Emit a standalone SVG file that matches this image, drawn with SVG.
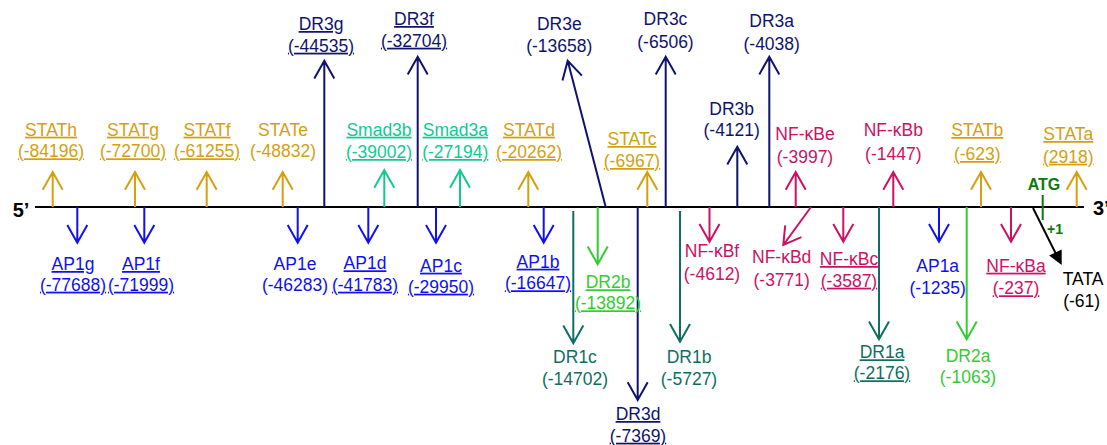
<svg xmlns="http://www.w3.org/2000/svg" width="1107" height="445" viewBox="0 0 1107 445">
<style>
text{font-family:"Liberation Sans",Arial,sans-serif;font-size:17.5px;text-anchor:middle}
.u{text-decoration:underline}
.gold{fill:#d4a010}.smad{fill:#10c995}.navy{fill:#10136e}.blue{fill:#1010f0}.nf{fill:#cc1166}.teal{fill:#0f6e62}.lg{fill:#33cc33}.blk{fill:#000}
.a{fill:none;stroke-width:2}
.sg{stroke:#d4a010}.ss{stroke:#10c995}.sn{stroke:#10136e}.sb{stroke:#1010f0}.snf{stroke:#cc1166}.st{stroke:#0f6e62}.slg{stroke:#33cc33}
.bold{font-weight:bold}
</style>
<rect width="1107" height="445" fill="#fff"/>
<g id="connectors">
<line x1="35" y1="207" x2="1084" y2="207" stroke="#000" stroke-width="2"/>
<!-- up STAT -->
<path class="a sg" d="M52.7 207V172M42.7 189.7L52.7 172L62.7 189.7"/>
<path class="a sg" d="M135 207V172M125 189.7L135 172L145 189.7"/>
<path class="a sg" d="M206.7 207V172M196.7 189.7L206.7 172L216.7 189.7"/>
<path class="a sg" d="M282.7 207V172M272.7 189.7L282.7 172L292.7 189.7"/>
<path class="a ss" d="M384.3 207V170M374.3 187.7L384.3 170L394.3 187.7"/>
<path class="a ss" d="M460 207V170M450 187.7L460 170L470 187.7"/>
<path class="a sg" d="M528.3 207V172M518.3 189.7L528.3 172L538.3 189.7"/>
<path class="a sg" d="M647.3 207V172M637.3 189.7L647.3 172L657.3 189.7"/>
<path class="a sg" d="M981 207V172M971 189.7L981 172L991 189.7"/>
<path class="a sg" d="M1076.7 207V172M1066.7 189.7L1076.7 172L1086.7 189.7"/>
<!-- up DR3 -->
<path class="a sn" d="M324.3 207V60.7M314.3 78.4L324.3 60.7L334.3 78.4"/>
<path class="a sn" d="M417.7 207V56.7M407.7 74.4L417.7 56.7L427.7 74.4"/>
<path class="a sn" d="M605.7 207L567.7 60.7M562.5 80.6L567.7 60.7L581.9 75.6"/>
<path class="a sn" d="M665.7 207V56.7M655.7 74.4L665.7 56.7L675.7 74.4"/>
<path class="a sn" d="M737.3 207V146.7M727.3 164.4L737.3 146.7L747.3 164.4"/>
<path class="a sn" d="M769.3 207V56.7M759.3 74.4L769.3 56.7L779.3 74.4"/>
<!-- up NF-kB -->
<path class="a snf" d="M795.7 207V172M785.7 189.7L795.7 172L805.7 189.7"/>
<path class="a snf" d="M893.3 207V172M883.3 189.7L893.3 172L903.3 189.7"/>
<!-- down AP1 -->
<path class="a sb" d="M77.3 207V242.7M67.3 225L77.3 242.7L87.3 225"/>
<path class="a sb" d="M144.3 207V242.7M134.3 225L144.3 242.7L154.3 225"/>
<path class="a sb" d="M297.7 207V242.7M287.7 225L297.7 242.7L307.7 225"/>
<path class="a sb" d="M368.3 207V242.7M358.3 225L368.3 242.7L378.3 225"/>
<path class="a sb" d="M436 207V242.7M426 225L436 242.7L446 225"/>
<path class="a sb" d="M543.7 207V242.7M533.7 225L543.7 242.7L553.7 225"/>
<path class="a sb" d="M939 207V241.7M929 224L939 241.7L949 224"/>
<!-- down DR1/DR2/DR3d -->
<path class="a st" d="M573.3 211V343.3M563.3 325.6L573.3 343.3L583.3 325.6"/>
<path class="a slg" d="M597.7 207V264.3M587.7 246.6L597.7 264.3L607.7 246.6"/>
<path class="a sn" d="M637.7 207V400M627.7 382.3L637.7 400L647.7 382.3"/>
<path class="a st" d="M680 211V341.7M670 324L680 341.7L690 324"/>
<path class="a st" d="M879 207V339.3M869 321.6L879 339.3L889 321.6"/>
<path class="a slg" d="M966.7 207V339.3M956.7 321.6L966.7 339.3L976.7 321.6"/>
<!-- down NF-kB -->
<path class="a snf" d="M709.5 207V241.7M699.5 224L709.5 241.7L719.5 224"/>
<path class="a snf" d="M811 207L783.3 245M801.4 237.2L783.3 245L785.2 225.4"/>
<path class="a snf" d="M843.3 207V241.7M833.3 224L843.3 241.7L853.3 224"/>
<path class="a snf" d="M1011 207V241.7M1001 224L1011 241.7L1021 224"/>
<!-- TATA -->
<line x1="1033" y1="208" x2="1056" y2="254" stroke="#000" stroke-width="2"/>
<polygon points="1061.7,265 1049.1,255.6 1061.7,249.4" fill="#000"/>
<!-- ATG tick -->
<line x1="1042.7" y1="195" x2="1042.7" y2="220" stroke="#0a7a0a" stroke-width="2"/>
</g>
<g id="ends">
<text x="21" y="217" class="bold blk" style="font-size:20px">5’</text>
<text x="1093" y="215" class="bold blk" style="font-size:20px;text-anchor:start">3’</text>
<text x="1044" y="190" class="bold" style="fill:#0a7a0a;font-size:16px">ATG</text>
<text x="1055" y="234" class="bold" style="fill:#0a7a0a;font-size:14px">+1</text>
</g>
<g id="STATh"><text class="gold u" x="51" y="135.7">STATh</text><text class="gold u" x="51" y="157.3">(-84196)</text></g>
<g id="STATg"><text class="gold u" x="133" y="135.7">STATg</text><text class="gold u" x="133" y="157.3">(-72700)</text></g>
<g id="STATf"><text class="gold u" x="207" y="135.7">STATf</text><text class="gold u" x="207" y="157.3">(-61255)</text></g>
<g id="STATe"><text class="gold" x="283" y="135.7">STATe</text><text class="gold" x="283" y="157.3">(-48832)</text></g>
<g id="DR3g"><text class="navy u" x="321" y="30">DR3g</text><text class="navy u" x="321" y="51.7">(-44535)</text></g>
<g id="Smad3b"><text class="smad u" x="379" y="135.7">Smad3b</text><text class="smad u" x="379" y="158">(-39002)</text></g>
<g id="DR3f"><text class="navy u" x="414" y="25">DR3f</text><text class="navy u" x="414" y="46.7">(-32704)</text></g>
<g id="Smad3a"><text class="smad u" x="455.3" y="135.7">Smad3a</text><text class="smad u" x="455.3" y="158">(-27194)</text></g>
<g id="STATd"><text class="gold u" x="529" y="135.7">STATd</text><text class="gold u" x="529" y="158">(-20262)</text></g>
<g id="DR3e"><text class="navy" x="559.3" y="30">DR3e</text><text class="navy" x="559.3" y="51.7">(-13658)</text></g>
<g id="STATc"><text class="gold u" x="632" y="145">STATc</text><text class="gold u" x="632" y="167">(-6967)</text></g>
<g id="DR3c"><text class="navy" x="665.5" y="25">DR3c</text><text class="navy" x="665.5" y="48.3">(-6506)</text></g>
<g id="DR3b"><text class="navy" x="731.7" y="115">DR3b</text><text class="navy" x="731.7" y="136">(-4121)</text></g>
<g id="DR3a"><text class="navy" x="771.7" y="26.7">DR3a</text><text class="navy" x="771.7" y="50">(-4038)</text></g>
<g id="NFkBe"><text class="nf" x="805" y="140">NF-κBe</text><text class="nf" x="805" y="162.7">(-3997)</text></g>
<g id="NFkBb"><text class="nf" x="893.3" y="136">NF-κBb</text><text class="nf" x="893.3" y="160">(-1447)</text></g>
<g id="STATb"><text class="gold u" x="977.3" y="136">STATb</text><text class="gold u" x="977.3" y="160">(-623)</text></g>
<g id="STATa"><text class="gold u" x="1068.3" y="140">STATa</text><text class="gold u" x="1068.3" y="162.7">(2918)</text></g>
<g id="AP1g"><text class="blue u" x="73" y="270">AP1g</text><text class="blue u" x="73" y="290.7">(-77688)</text></g>
<g id="AP1f"><text class="blue u" x="141" y="270">AP1f</text><text class="blue u" x="141" y="290.7">(-71999)</text></g>
<g id="AP1e"><text class="blue" x="295" y="270">AP1e</text><text class="blue" x="295" y="290.7">(-46283)</text></g>
<g id="AP1d"><text class="blue u" x="365" y="269.3">AP1d</text><text class="blue u" x="365" y="290.7">(-41783)</text></g>
<g id="AP1c"><text class="blue u" x="441" y="271.7">AP1c</text><text class="blue u" x="441" y="292.7">(-29950)</text></g>
<g id="AP1b"><text class="blue u" x="538" y="267.7">AP1b</text><text class="blue u" x="538" y="289.3">(-16647)</text></g>
<g id="DR2b"><text class="lg u" x="608" y="288.3">DR2b</text><text class="lg u" x="608" y="309.3">(-13892)</text></g>
<g id="DR1c"><text class="teal" x="575" y="362.7">DR1c</text><text class="teal" x="575" y="385">(-14702)</text></g>
<g id="DR3d"><text class="navy u" x="638" y="420">DR3d</text><text class="navy u" x="638" y="441.7">(-7369)</text></g>
<g id="DR1b"><text class="teal" x="689" y="362.7">DR1b</text><text class="teal" x="689" y="385">(-5727)</text></g>
<g id="NFkBf"><text class="nf" x="712" y="256.7">NF-κBf</text><text class="nf" x="712" y="280">(-4612)</text></g>
<g id="NFkBd"><text class="nf" x="781.7" y="263.3">NF-κBd</text><text class="nf" x="781.7" y="286">(-3771)</text></g>
<g id="NFkBc"><text class="nf u" x="849" y="265">NF-κBc</text><text class="nf u" x="849" y="286.7">(-3587)</text></g>
<g id="DR1a"><text class="teal u" x="882" y="358.3">DR1a</text><text class="teal u" x="882" y="379.3">(-2176)</text></g>
<g id="AP1a"><text class="blue" x="937.7" y="271.7">AP1a</text><text class="blue" x="937.7" y="294.3">(-1235)</text></g>
<g id="DR2a"><text class="lg" x="968" y="361.7">DR2a</text><text class="lg" x="968" y="383.3">(-1063)</text></g>
<g id="NFkBa"><text class="nf u" x="1016" y="271.7">NF-κBa</text><text class="nf u" x="1016" y="294.3">(-237)</text></g>
<g id="TATA"><text class="blk" x="1062.7" y="285" style="text-anchor:start">TATA</text><text class="blk" x="1081.7" y="306.7">(-61)</text></g>
</svg>
